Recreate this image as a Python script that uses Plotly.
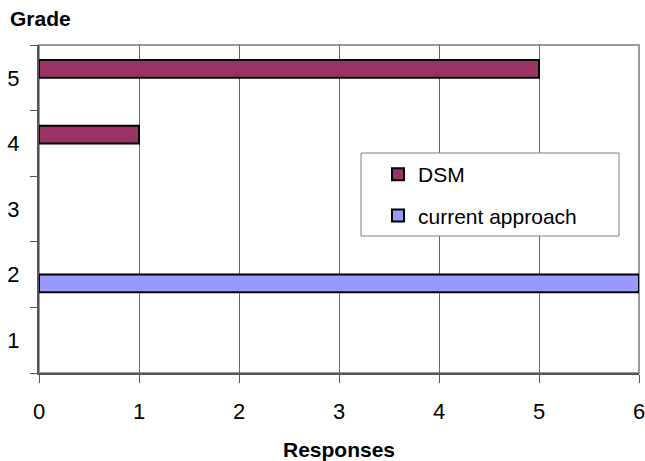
import plotly.graph_objects as go

grades = [1, 2, 3, 4, 5]
dsm = [0, 0, 0, 1, 5]
current_approach = [0, 6, 0, 0, 0]
x_ticks = [0, 1, 2, 3, 4, 5, 6]

FONT = "Liberation Sans, Arial, sans-serif"


def shown(values):
    # empty grades get no bar at all, so no outline sits on the axis
    return [v if v else None for v in values]


fig = go.Figure()
fig.add_trace(go.Bar(
    y=grades, x=shown(current_approach), orientation="h", name="current approach",
    marker=dict(color="#9999FF", line=dict(color="black", width=2)),
    legendgroup="b", legendrank=2,
))
fig.add_trace(go.Bar(
    y=grades, x=shown(dsm), orientation="h", name="DSM",
    marker=dict(color="#993366", line=dict(color="black", width=2)),
    legendgroup="a", legendrank=1,
))

# legend frame
fig.add_shape(type="rect", xref="paper", yref="paper",
              x0=(361 - 39) / 600, x1=(619 - 39) / 600,
              y0=(373 - 236) / 328, y1=(373 - 153) / 328,
              line=dict(color="#808080", width=1), fillcolor="white", layer="above")
# plot frame (top/right)
fig.add_shape(type="rect", xref="paper", yref="paper", x0=0, x1=1, y0=0, y1=1,
              line=dict(color="#999999", width=2), layer="below")

fig.update_layout(
    width=645, height=461,
    margin=dict(l=39, r=6, t=45, b=88),
    paper_bgcolor="white", plot_bgcolor="white",
    barmode="group", bargap=0.46, bargroupgap=0,
    font=dict(family=FONT, size=22, color="black"),
    showlegend=True,
    legend=dict(
        x=(378 - 39) / 600, y=(373 - 154) / 328, xanchor="left", yanchor="top",
        bgcolor="rgba(0,0,0,0)", borderwidth=0,
        font=dict(size=21, family=FONT),
        traceorder="grouped", tracegroupgap=11,
    ),
    xaxis=dict(
        range=[0, 6], tickvals=x_ticks, ticks="outside", ticklen=8,
        tickcolor="#555555", tickwidth=1,
        showgrid=True, gridcolor="#666666", gridwidth=1,
        showline=True, linecolor="#555555", linewidth=2,
        zeroline=False, ticklabelstandoff=10, ticklabeloverflow="allow",
        title=dict(text="<b>Responses</b>", font=dict(size=21), standoff=21),
        fixedrange=True, automargin=False,
    ),
    yaxis=dict(
        range=[0.5, 5.5], tickvals=grades, ticks="",
        showgrid=False, showline=True, linecolor="#555555", linewidth=2,
        zeroline=False, ticklabelstandoff=13,
        minor=dict(tickvals=[0.5, 1.5, 2.5, 3.5, 4.5, 5.5], ticks="outside",
                   ticklen=7, tickcolor="#555555", tickwidth=1, showgrid=False),
        fixedrange=True, automargin=False,
    ),
    annotations=[dict(text="<b>Grade</b>", xref="paper", yref="paper",
                      x=-39 / 600, y=(373 - 18) / 328, xanchor="left", yanchor="middle",
                      xshift=8, showarrow=False, font=dict(size=21))],
)

fig.write_html("out.html")
